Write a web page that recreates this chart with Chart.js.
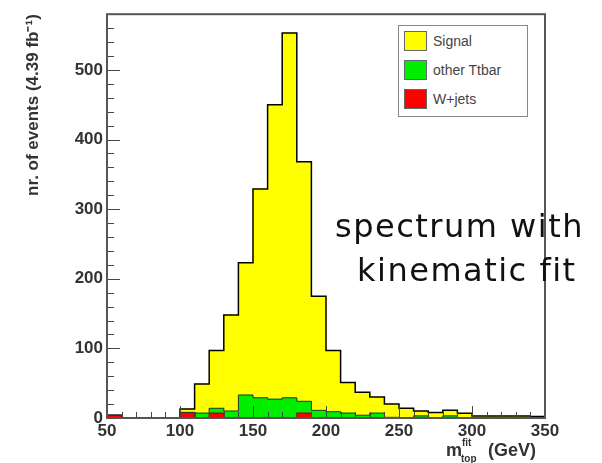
<!DOCTYPE html>
<html lang="en">
<head>
<meta charset="UTF-8">
<title>m_top fit spectrum</title>
<script src="https://cdn.jsdelivr.net/npm/chart.js"></script>
<style>
  body { margin: 0; background: #fff; }
  .wrap { position: relative; width: 602px; height: 463px; }
  canvas { position: absolute; left: 0; top: 0; }
  .legenda { position: absolute; left: 398px; top: 25px; width: 130px; height: 92px; border: 1px solid #888;
             background: #fff; box-sizing: border-box; font-family: "Liberation Sans", Arial, sans-serif;
             font-size: 14px; color: #444; }
  .legenda .item { position: absolute; left: 0; height: 20px; line-height: 20px; }
  .legenda .cor { position: absolute; left: 5px; top: 0; width: 23px; height: 20px; border: 1px solid #666; box-sizing: border-box; }
  .legenda .txt { position: absolute; left: 34px; top: 0; white-space: nowrap; }
  .nota { position: absolute; font-family: "DejaVu Sans", sans-serif; font-size: 32px; letter-spacing: 1.5px;
          color: #111; white-space: nowrap; line-height: 1; }
</style>
</head>
<body>
<div class="wrap">
  <canvas id="grafico" width="602" height="463"></canvas>
  <div id="legenda" class="legenda"></div>
  <div class="nota" style="left:335px; top:210px;">spectrum with</div>
  <div class="nota" style="left:357px; top:254px;">kinematic fit</div>
</div>

<script>
  // bins de 10 GeV, borda esquerda
  const inicioBins = [50, 60, 70, 80, 90, 100, 110, 120, 130, 140, 150, 160, 170, 180, 190,
                      200, 210, 220, 230, 240, 250, 260, 270, 280, 290, 300, 310, 320, 330, 340];
  const larguraBin = 10;

  const sinal       = [0, 0, 0, 0, 0, 5, 42, 83, 138, 190, 300, 423, 524, 344, 164,
                       88, 44, 33, 23, 19, 14, 7, 8, 8, 7, 3, 3, 3, 3, 2];
  const outrosTtbar = [0, 0, 0, 0, 0, 0, 7, 7, 10, 33, 29, 27, 29, 17, 11,
                       9, 7, 4, 7, 1, 0, 3, 0, 3, 0, 0, 0, 0, 0, 0];
  const wJets       = [4, 0, 0, 0, 0, 8, 0, 7, 0, 0, 0, 0, 0, 7, 0,
                       0, 0, 0, 0, 0, 0, 0, 0, 0, 0, 0, 0, 0, 0, 0];

  const ticksX = [50, 100, 150, 200, 250, 300, 350];
  const ticksY = [0, 100, 200, 300, 400, 500];
  const maxY = 580;

  // pontos do histograma (centro do bin)
  function pontos(valores) {
    return valores.map((v, i) => ({ x: inicioBins[i] + larguraBin / 2, y: v }));
  }

  // contorno em degraus, como no ROOT
  function contorno(valores) {
    let pts = [{ x: inicioBins[0], y: 0 }];
    valores.forEach((v, i) => pts.push({ x: inicioBins[i], y: v }));
    let fim = inicioBins[inicioBins.length - 1] + larguraBin;
    pts.push({ x: fim, y: valores[valores.length - 1] });
    pts.push({ x: fim, y: 0 });
    return pts;
  }

  const somaVerde = outrosTtbar.map((v, i) => v + wJets[i]);
  const somaTotal = sinal.map((v, i) => v + somaVerde[i]);

  function linhaContorno(valores, cor, largura, pilha) {
    return {
      type: 'line',
      data: contorno(valores),
      stepped: true,
      borderColor: cor,
      borderWidth: largura,
      pointRadius: 0,
      fill: false,
      stack: pilha,
      order: -1,
      mostrarLegenda: false
    };
  }

  const fonteEixo = { family: "'Liberation Sans', Arial, sans-serif", size: 17, weight: 'bold' };

  const pluginMoldura = {
    id: 'moldura',
    afterDraw(chart) {
      const ctx = chart.ctx;
      const a = chart.chartArea;
      const sx = chart.scales.x;
      const sy = chart.scales.y;
      ctx.save();
      ctx.strokeStyle = '#444';
      ctx.lineWidth = 1;

      // ticks para dentro no eixo y
      for (let v = 0; v <= maxY; v += 20) {
        let py = Math.round(sy.getPixelForValue(v)) + 0.5;
        let len = v % 100 === 0 ? 13 : 7;
        ctx.beginPath();
        ctx.moveTo(a.left, py);
        ctx.lineTo(a.left + len, py);
        ctx.stroke();
      }
      // ticks para dentro no eixo x
      for (let v = ticksX[0]; v <= ticksX[ticksX.length - 1]; v += larguraBin) {
        let px = Math.round(sx.getPixelForValue(v)) + 0.5;
        let len = (v - ticksX[0]) % 50 === 0 ? 12 : 6;
        ctx.beginPath();
        ctx.moveTo(px, a.bottom);
        ctx.lineTo(px, a.bottom - len);
        ctx.stroke();
      }

      // moldura
      ctx.strokeStyle = '#555';
      ctx.lineWidth = 2;
      ctx.strokeRect(a.left, a.top, a.right - a.left, a.bottom - a.top);

      // titulo do eixo x: m_top^fit (GeV)
      ctx.fillStyle = '#333';
      ctx.textBaseline = 'alphabetic';
      ctx.font = "bold 18px 'Liberation Sans', Arial, sans-serif";
      ctx.fillText('m', 446, 456);
      ctx.font = "bold 10px 'Liberation Sans', Arial, sans-serif";
      ctx.fillText('fit', 462, 446);
      ctx.fillText('top', 461, 462);
      ctx.font = "bold 18px 'Liberation Sans', Arial, sans-serif";
      ctx.fillText('(GeV)', 488, 456);
      ctx.restore();
    }
  };

  const dados = {
    datasets: [
      { label: 'W+jets', data: pontos(wJets), backgroundColor: '#ff0000', borderWidth: 0, stack: 'hist' },
      { label: 'other Ttbar', data: pontos(outrosTtbar), backgroundColor: '#00ee00', borderWidth: 0, stack: 'hist' },
      { label: 'Signal', data: pontos(sinal), backgroundColor: '#ffff00', borderWidth: 0, stack: 'hist' },
      linhaContorno(wJets, '#333', 1, 'c1'),
      linhaContorno(somaVerde, '#333', 1, 'c2'),
      linhaContorno(somaTotal, '#000', 1.5, 'c3')
    ]
  };

  const config = {
    type: 'bar',
    data: dados,
    options: {
      responsive: false,
      devicePixelRatio: 1,
      animation: false,
      barPercentage: 1,
      categoryPercentage: 1,
      layout: { padding: { left: 19, top: 11, right: 57, bottom: 0 } },
      plugins: {
        legend: { display: false },
        tooltip: { enabled: false }
      },
      scales: {
        x: {
          type: 'linear',
          stacked: true,
          offset: false,
          min: 50,
          max: 350,
          grid: { display: false, drawTicks: false },
          border: { display: false },
          afterBuildTicks: s => { s.ticks = ticksX.map(v => ({ value: v })); },
          afterFit: s => { s.height = 45; },
          ticks: { font: fonteEixo, color: '#333', padding: 3, maxRotation: 0 }
        },
        y: {
          stacked: true,
          min: 0,
          max: maxY,
          grid: { display: false, drawTicks: false },
          border: { display: false },
          afterBuildTicks: s => { s.ticks = ticksY.map(v => ({ value: v })); },
          afterFit: s => { s.width = 88; },
          ticks: { font: fonteEixo, color: '#333', padding: 4 },
          title: {
            display: true,
            text: 'nr. of events (4.39 fb⁻¹)',
            align: 'end',
            color: '#333',
            padding: { top: 4, bottom: 4, y: 4 },
            font: { family: "'Liberation Sans', Arial, sans-serif", size: 17, weight: 'bold' }
          }
        }
      }
    },
    plugins: [pluginMoldura]
  };

  const meuGrafico = new Chart(document.getElementById('grafico'), config);

  // legenda em HTML, na ordem do ROOT (Signal primeiro)
  const legenda = document.getElementById('legenda');
  const itens = dados.datasets.filter(d => d.mostrarLegenda !== false).reverse();
  itens.forEach((d, i) => {
    const item = document.createElement('div');
    item.className = 'item';
    item.style.top = (5 + i * 29) + 'px';
    item.innerHTML = '<span class="cor" style="background:' + d.backgroundColor + '"></span>' +
                     '<span class="txt">' + d.label + '</span>';
    legenda.appendChild(item);
  });
</script>
</body>
</html>
